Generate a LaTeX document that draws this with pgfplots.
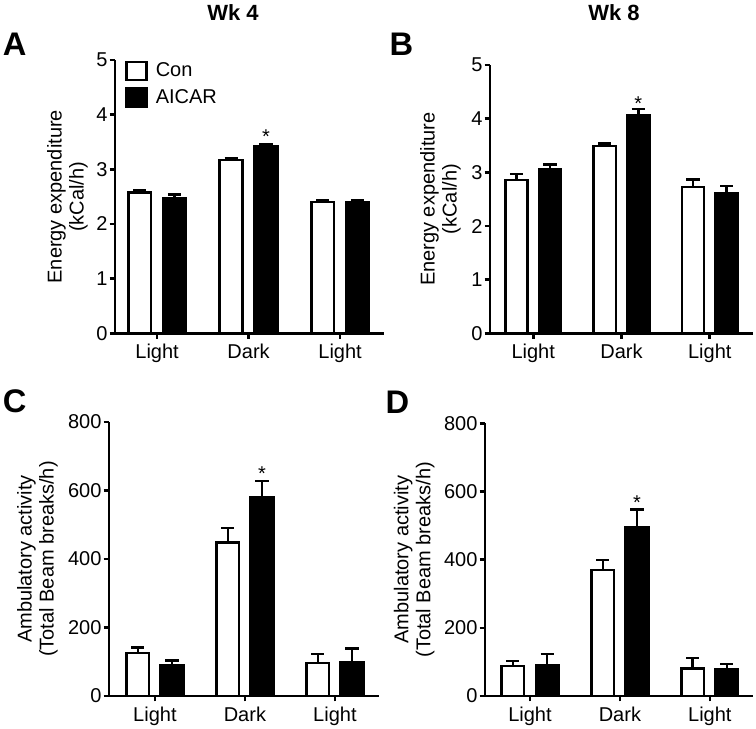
\documentclass[border=0pt]{standalone}
\usepackage{fontspec}
\setmainfont{Liberation Sans}
\usepackage{pgfplots}
\pgfplotsset{compat=1.18}

\newcommand{\lblfont}{\fontsize{15}{16.5}\selectfont}
\pgfplotsset{
  panel/.style={
    scale only axis,
    axis x line=bottom, axis y line=left,
    axis line style={-, line width=1.9pt},
    every tick/.style={line width=1.9pt, black},
    major tick length=4pt,
    tick align=outside,
    xtick={0,1,2}, xticklabels={Light,Dark,Light},
    ymin=0,
    font=\lblfont,
    tick label style={font=\lblfont},
    /pgf/number format/assume math mode=true,
    yticklabel style={inner sep=1.5pt},
    xticklabel style={inner sep=3.8pt},
    ybar, bar width=0.25,
    clip=false,
    ylabel style={anchor=south, inner sep=0pt, align=center, font=\lblfont},
  },
  conbar/.style={fill=white, draw=black, line width=1.9pt, bar shift=-0.19,
    legend image code/.code={\draw[##1] (0pt,-6.8pt) rectangle (15pt,6.8pt);},
    error bars/.cd, y dir=plus, y explicit,
    error bar style={line width=1.9pt, black},
    error mark options={rotate=90, line width=1.9pt, mark size=4.9pt, black}},
  aicbar/.style={fill=black, draw=black, line width=1.9pt, bar shift=0.19,
    legend image code/.code={\draw[##1] (0pt,-6.8pt) rectangle (15pt,6.8pt);},
    error bars/.cd, y dir=plus, y explicit,
    error bar style={line width=1.9pt, black},
    error mark options={rotate=90, line width=1.9pt, mark size=4.9pt, black}},
}

\begin{document}
\begin{tikzpicture}
\path[use as bounding box] (0,0) rectangle (567pt,-546pt);

% Titles
\node[font=\bfseries\fontsize{16.5}{18}\selectfont, anchor=base, inner sep=0] at (174.75pt,-15pt) {Wk 4};
\node[font=\bfseries\fontsize{16.5}{18}\selectfont, anchor=base, inner sep=0] at (460.5pt,-15pt) {Wk 8};
% Panel letters
\node[font=\bfseries\fontsize{24.5}{27}\selectfont, anchor=base west, inner sep=0] at (2pt,-41.25pt) {A};
\node[font=\bfseries\fontsize{24.5}{27}\selectfont, anchor=base west, inner sep=0] at (292pt,-41.25pt) {B};
\node[font=\bfseries\fontsize{24.5}{27}\selectfont, anchor=base west, inner sep=0] at (2pt,-309pt) {C};
\node[font=\bfseries\fontsize{24.5}{27}\selectfont, anchor=base west, inner sep=0] at (289pt,-309.75pt) {D};

% Panel A
\begin{axis}[panel,
  at={(86.25pt,-250pt)}, anchor=south west,
  width=201.75pt, height=205pt,
  xmin=-0.46, xmax=2.48, ymax=5, ytick={0,1,2,3,4,5},
  ylabel={Energy expenditure\\(kCal/h)},
  ylabel style={at={(axis description cs:-0.1,0.5)}},
  legend style={draw=none, fill=none, at={(axis description cs:0.037,1)}, anchor=north west,
    inner sep=0pt, row sep=4pt, font=\lblfont,
    /tikz/every odd column/.style={column sep=4pt}},
  legend cell align=left,
]
\addplot[conbar] coordinates {(0,2.58) +- (0,0.03) (1,3.17) +- (0,0.04) (2,2.40) +- (0,0.03)};
\addplot[aicbar] coordinates {(0,2.48) +- (0,0.06) (1,3.42) +- (0,0.03) (2,2.40) +- (0,0.03)};
\legend{Con, AICAR}
\node[anchor=base, inner sep=0, font=\lblfont] at (axis cs:1.19,3.48) {*};
\end{axis}

% Panel B
\begin{axis}[panel,
  at={(367.5pt,-250pt)}, anchor=south west,
  width=197.25pt, height=201.2pt,
  xmin=-0.49, xmax=2.49, ymax=5, ytick={0,1,2,3,4,5},
  ylabel={Energy expenditure\\(kCal/h)},
  ylabel style={at={(axis description cs:-0.11,0.5)}},
]
\addplot[conbar] coordinates {(0,2.86) +- (0,0.11) (1,3.49) +- (0,0.05) (2,2.73) +- (0,0.14)};
\addplot[aicbar] coordinates {(0,3.06) +- (0,0.09) (1,4.06) +- (0,0.12) (2,2.61) +- (0,0.14)};
\node[anchor=base, inner sep=0, font=\lblfont] at (axis cs:1.19,4.15) {*};
\end{axis}

% Panel C
\begin{axis}[panel,
  at={(81.75pt,-522pt)}, anchor=south west,
  width=202.5pt, height=205.5pt,
  xmin=-0.51, xmax=2.49, ymax=800, ytick={0,200,400,600,800},
  ylabel={Ambulatory activity\\(Total Beam breaks/h)},
  ylabel style={at={(axis description cs:-0.189,0.5)}},
]
\addplot[conbar] coordinates {(0,125) +- (0,17) (1,448) +- (0,42) (2,97) +- (0,26)};
\addplot[aicbar] coordinates {(0,90) +- (0,13) (1,579) +- (0,49) (2,99) +- (0,39)};
\node[anchor=base, inner sep=0, font=\lblfont] at (axis cs:1.19,629) {*};
\end{axis}

% Panel D
\begin{axis}[panel,
  at={(363.75pt,-522pt)}, anchor=south west,
  width=201pt, height=204.5pt,
  xmin=-0.5, xmax=2.48, ymax=800, ytick={0,200,400,600,800},
  ylabel={Ambulatory activity\\(Total Beam breaks/h)},
  ylabel style={at={(axis description cs:-0.187,0.5)}},
]
\addplot[conbar] coordinates {(0,88) +- (0,15) (1,370) +- (0,29) (2,80) +- (0,32)};
\addplot[aicbar] coordinates {(0,91) +- (0,32) (1,495) +- (0,53) (2,78) +- (0,16)};
\node[anchor=base, inner sep=0, font=\lblfont] at (axis cs:1.19,547) {*};
\end{axis}
\end{tikzpicture}
\end{document}
